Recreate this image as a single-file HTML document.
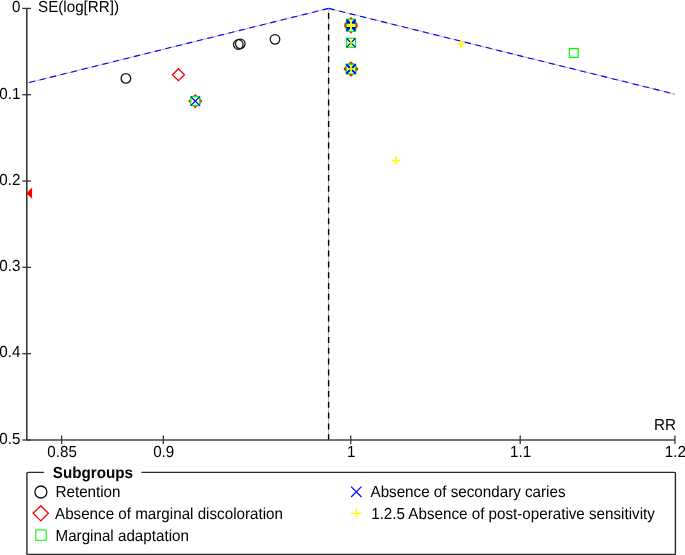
<!DOCTYPE html>
<html><head><meta charset="utf-8"><style>
html,body{margin:0;padding:0;background:#fff;width:685px;height:555px;overflow:hidden}
svg{display:block;font-family:"Liberation Sans",sans-serif;font-size:15.2px;fill:#000;will-change:transform;text-rendering:geometricPrecision}
</style></head><body>
<svg width="685" height="555" viewBox="0 0 685 555">
<path d="M26.80,83.13 L328.6,8.4 L675.0,94.18" stroke="#999" stroke-width="0.7" fill="none"/>
<path d="M328.6,8.4 L26.80,83.13" stroke="#00f" stroke-width="1.1" fill="none" stroke-dasharray="6.1 4.7"/>
<path d="M328.6,8.4 L675.00,94.18" stroke="#00f" stroke-width="1.1" fill="none" stroke-dasharray="6.1 4.7"/>
<line x1="328.6" y1="8.4" x2="328.6" y2="440" stroke="#999" stroke-width="0.7"/>
<line x1="328.6" y1="8.4" x2="328.6" y2="440" stroke="#000" stroke-width="1.4" stroke-dasharray="6 4.8" stroke-dashoffset="6.2"/>
<line x1="26.8" y1="8.4" x2="26.8" y2="440" stroke="#2d2d2d" stroke-width="1.5"/>
<line x1="26.8" y1="440" x2="675" y2="440" stroke="#444" stroke-width="1.3"/>
<line x1="22.3" y1="8.40" x2="31" y2="8.40" stroke="#333" stroke-width="1.3"/>
<text transform="translate(20.40,12.20) scale(1,1.05)" text-anchor="end">0</text>
<line x1="22.3" y1="94.72" x2="31" y2="94.72" stroke="#333" stroke-width="1.3"/>
<text transform="translate(20.40,98.52) scale(1,1.05)" text-anchor="end">0.1</text>
<line x1="22.3" y1="181.04" x2="31" y2="181.04" stroke="#333" stroke-width="1.3"/>
<text transform="translate(20.40,184.84) scale(1,1.05)" text-anchor="end">0.2</text>
<line x1="22.3" y1="267.36" x2="31" y2="267.36" stroke="#333" stroke-width="1.3"/>
<text transform="translate(20.40,271.16) scale(1,1.05)" text-anchor="end">0.3</text>
<line x1="22.3" y1="353.68" x2="31" y2="353.68" stroke="#333" stroke-width="1.3"/>
<text transform="translate(20.40,357.48) scale(1,1.05)" text-anchor="end">0.4</text>
<line x1="22.3" y1="440.00" x2="31" y2="440.00" stroke="#333" stroke-width="1.3"/>
<text transform="translate(20.40,443.80) scale(1,1.05)" text-anchor="end">0.5</text>
<line x1="61.66" y1="435.6" x2="61.66" y2="444" stroke="#333" stroke-width="1.3"/>
<text transform="translate(62.06,456.80) scale(1,1.05)" text-anchor="middle">0.85</text>
<line x1="163.32" y1="435.6" x2="163.32" y2="444" stroke="#333" stroke-width="1.3"/>
<text transform="translate(163.72,456.80) scale(1,1.05)" text-anchor="middle">0.9</text>
<line x1="350.70" y1="435.6" x2="350.70" y2="444" stroke="#333" stroke-width="1.3"/>
<text transform="translate(351.10,456.80) scale(1,1.05)" text-anchor="middle">1</text>
<line x1="520.21" y1="435.6" x2="520.21" y2="444" stroke="#333" stroke-width="1.3"/>
<text transform="translate(520.61,456.80) scale(1,1.05)" text-anchor="middle">1.1</text>
<line x1="674.96" y1="435.6" x2="674.96" y2="444" stroke="#333" stroke-width="1.3"/>
<text transform="translate(675.36,456.80) scale(1,1.05)" text-anchor="middle">1.2</text>
<text transform="translate(676.00,430.20) scale(1,1.05)" text-anchor="end">RR</text>
<text transform="translate(38.00,11.90) scale(1,1.05)">SE(log[RR])</text>
<circle cx="125.9" cy="78.4" r="4.8" stroke="#111" stroke-width="1.25" fill="none"/>
<circle cx="238.3" cy="44.5" r="4.8" stroke="#111" stroke-width="1.25" fill="none"/>
<circle cx="240.3" cy="43.8" r="4.8" stroke="#111" stroke-width="1.25" fill="none"/>
<circle cx="275" cy="39.3" r="4.8" stroke="#111" stroke-width="1.25" fill="none"/>
<path d="M172.45,74.7 L178.45,68.7 L184.45,74.7 L178.45,80.7 Z" stroke="#f00" stroke-width="1.3" fill="none"/>
<path d="M189.0,101.1 L195.3,94.8 L201.60000000000002,101.1 L195.3,107.39999999999999 Z" stroke="#f00" stroke-width="1.3" fill="none"/>
<rect x="190.8" y="96.5" width="9.0" height="9.0" stroke="#0f0" stroke-width="1.3" fill="#fff"/>
<path d="M190.8,96.6 L199.8,105.6 M190.8,105.6 L199.8,96.6" stroke="#00f" stroke-width="1.3" fill="none"/>
<path d="M345.0,24.0 L351,18.0 L357.0,24.0 L351,30.0 Z" stroke="#f00" stroke-width="1.3" fill="none"/>
<path d="M345.0,25.3 L351,19.3 L357.0,25.3 L351,31.3 Z" stroke="#f00" stroke-width="1.3" fill="none"/>
<path d="M345.0,26.7 L351,20.7 L357.0,26.7 L351,32.7 Z" stroke="#f00" stroke-width="1.3" fill="none"/>
<rect x="346.5" y="19.3" width="9.0" height="9.0" stroke="#0f0" stroke-width="1.3" fill="#fff"/>
<rect x="346.5" y="22.3" width="9.0" height="9.0" stroke="#0f0" stroke-width="1.3" fill="#fff"/>
<path d="M346.7,19.7 L355.3,28.3 M346.7,28.3 L355.3,19.7" stroke="#00f" stroke-width="1.7" fill="none"/>
<path d="M346.7,21.0 L355.3,29.6 M346.7,29.6 L355.3,21.0" stroke="#00f" stroke-width="1.7" fill="none"/>
<path d="M346.7,22.3 L355.3,30.900000000000002 M346.7,30.900000000000002 L355.3,22.3" stroke="#00f" stroke-width="1.7" fill="none"/>
<path d="M347.0,24.4 L355.0,24.4 M351,20.4 L351,28.4" stroke="#ff0" stroke-width="1.2" fill="none"/>
<path d="M347.0,25.4 L355.0,25.4 M351,21.4 L351,29.4" stroke="#ff0" stroke-width="1.2" fill="none"/>
<path d="M347.0,26.4 L355.0,26.4 M351,22.4 L351,30.4" stroke="#ff0" stroke-width="1.2" fill="none"/>
<rect x="346.5" y="38.3" width="9.0" height="9.0" stroke="#0f0" stroke-width="1.3" fill="#fff"/>
<path d="M346.7,38.5 L355.3,47.099999999999994 M346.7,47.099999999999994 L355.3,38.5" stroke="#00f" stroke-width="1.3" fill="none"/>
<path d="M347.2,42.8 L354.8,42.8 M351,39.0 L351,46.599999999999994" stroke="#ff0" stroke-width="1.0" fill="none"/>
<path d="M344.7,68.6 L351,62.3 L357.3,68.6 L351,74.89999999999999 Z" stroke="#f00" stroke-width="1.5" fill="none"/>
<path d="M344.7,69.4 L351,63.10000000000001 L357.3,69.4 L351,75.7 Z" stroke="#f00" stroke-width="1.5" fill="none"/>
<rect x="346.4" y="64.10000000000001" width="9.2" height="9.2" stroke="#0f0" stroke-width="1.3" fill="#fff"/>
<rect x="346.4" y="64.7" width="9.2" height="9.2" stroke="#0f0" stroke-width="1.3" fill="#fff"/>
<path d="M346.5,64.3 L355.5,73.3 M346.5,73.3 L355.5,64.3" stroke="#00f" stroke-width="1.6" fill="none"/>
<path d="M346.5,64.8 L355.5,73.8 M346.5,73.8 L355.5,64.8" stroke="#00f" stroke-width="1.6" fill="none"/>
<path d="M347.0,69 L355.0,69 M351,65.0 L351,73.0" stroke="#ff0" stroke-width="1.5" fill="none"/>
<rect x="569.4" y="48.5" width="8.8" height="8.8" stroke="#0f0" stroke-width="1.3" fill="#fff"/>
<path d="M456.5,44 L465.5,44 M461,39.5 L461,48.5" stroke="#ff0" stroke-width="1.6" fill="none"/>
<path d="M391.4,160.45 L400.4,160.45 M395.9,155.95 L395.9,164.95" stroke="#ff0" stroke-width="1.6" fill="none"/>
<path d="M26.3,193.2 L32.1,187.5 L32.1,198.8 Z" fill="#f00"/>
<path d="M43.9,472.4 L28,472.4 Q26.9,472.4 26.9,473.5 L26.9,553.4 Q26.9,554.5 28,554.5 L674.3,554.5 Q675.4,554.5 675.4,553.4 L675.4,473.5 Q675.4,472.4 674.3,472.4 L141.5,472.4" stroke="#2a2a2a" stroke-width="1.4" fill="none"/>
<text transform="translate(52.80,477.60) scale(1,1.05)" font-weight="bold">Subgroups</text>
<circle cx="40.9" cy="492" r="6" stroke="#111" stroke-width="1.3" fill="none"/>
<text transform="translate(55.50,496.80) scale(1,1.05)">Retention</text>
<path d="M33.199999999999996,513.3 L40.8,505.69999999999993 L48.4,513.3 L40.8,520.9 Z" stroke="#f00" stroke-width="1.3" fill="none"/>
<text transform="translate(55.00,518.80) scale(1,1.05)">Absence of marginal discoloration</text>
<rect x="35.8" y="529.9" width="10.4" height="10.4" stroke="#0f0" stroke-width="1.1" fill="none"/>
<text transform="translate(55.50,540.80) scale(1,1.05)">Marginal adaptation</text>
<path d="M351.1,486.6 L361.5,497.0 M351.1,497.0 L361.5,486.6" stroke="#00f" stroke-width="1.2" fill="none"/>
<text transform="translate(370.50,496.90) scale(1,1.05)">Absence of secondary caries</text>
<path d="M350.9,513.4 L361.9,513.4 M356.4,507.9 L356.4,518.9" stroke="#ff0" stroke-width="1.3" fill="none"/>
<text transform="translate(371.20,518.60) scale(1,1.05)">1.2.5 Absence of post-operative sensitivity</text>
</svg>
</body></html>
